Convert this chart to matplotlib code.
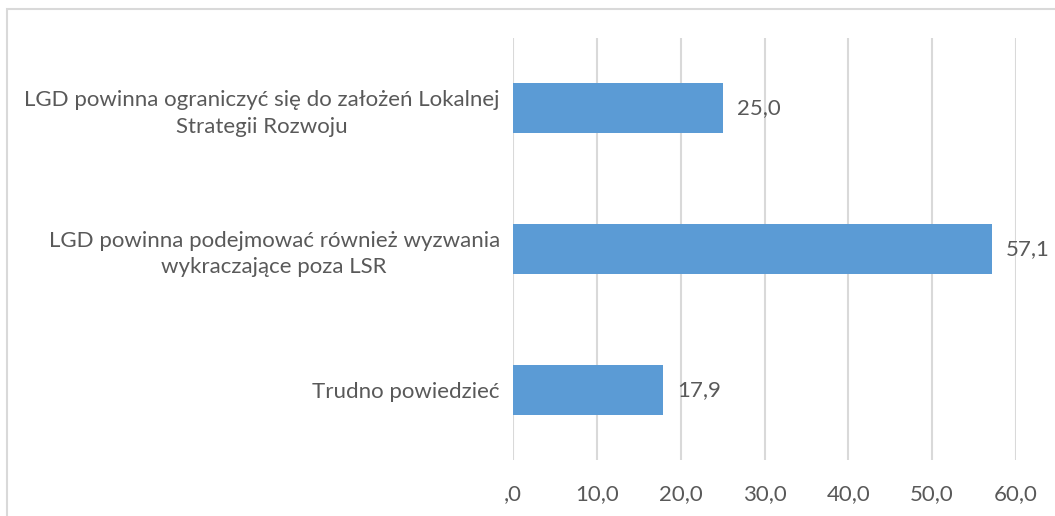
import matplotlib.pyplot as plt
from matplotlib.patches import Rectangle

# data
categories = [
    "LGD powinna ograniczyć się do założeń Lokalnej\nStrategii Rozwoju",
    "LGD powinna podejmować również wyzwania\nwykraczające poza LSR",
    "Trudno powiedzieć",
]
values = [25.0, 57.1, 17.9]
xticks = [0, 10, 20, 30, 40, 50, 60]
xtick_labels = [",0", "10,0", "20,0", "30,0", "40,0", "50,0", "60,0"]

plt.rcParams['font.family'] = ['Lato', 'DejaVu Sans']
txt = "#595959"
grid = "#D9D9D9"
fs = 16

fig = plt.figure(figsize=(10.55, 5.16), dpi=100)
ax = fig.add_axes([513/1055, 1-460/516, (1016-513)/1055, (460-38)/516])

pos = list(range(len(categories)))
ax.barh(pos, values, height=0.355, color="#5B9BD5", zorder=3)
ax.set_ylim(len(categories)-0.5, -0.5)
ax.set_xlim(0, 60)

for p, v in zip(pos, values):
    ax.annotate(f"{v:.1f}".replace(".", ","), (v, p), xytext=(10.5, 0),
                textcoords="offset points", va="center", ha="left",
                fontsize=fs, color=txt)

ax.set_xticks(xticks)
ax.set_xticklabels(xtick_labels)
ax.set_yticks(pos)
ax.set_yticklabels(categories, ha="right", multialignment="center",
                   linespacing=1.4)
ax.tick_params(axis="both", length=0, labelsize=fs, labelcolor=txt)
ax.tick_params(axis="x", pad=17)
ax.tick_params(axis="y", pad=9.5)
ax.grid(axis="x", color=grid, linewidth=1.5, zorder=0)
for s in ax.spines.values():
    s.set_visible(False)

# chart frame
fig.patches.append(Rectangle((6.5/1055, -0.01), 1.1, 1-8.5/516+0.01,
                             transform=fig.transFigure, fill=False,
                             edgecolor=grid, linewidth=1.5))

fig.savefig("out.png", dpi=100)
